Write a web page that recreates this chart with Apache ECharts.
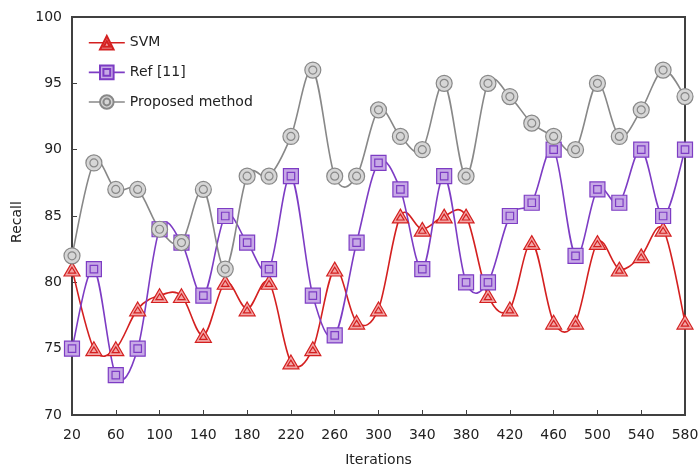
<!DOCTYPE html>
<html>
<head>
<meta charset="utf-8">
<script src="https://cdn.jsdelivr.net/npm/echarts@6/dist/echarts.min.js"></script>
<style>
  html, body { margin: 0; padding: 0; background: #fff; }
  #chart { width: 700px; height: 468px; }
</style>
</head>
<body>
<div id="chart"></div>
<script>
// Iteration counts along the x axis
const iterations = ['20','40','60','80','100','120','140','160','180','200','220','240','260','280','300',
  '320','340','360','380','400','420','440','460','480','500','520','540','560','580'];

// Recall (%) per iteration for each method
const svm = [81, 75, 75, 78, 79, 79, 76, 80, 78, 80, 74, 75, 81, 77, 78,
  85, 84, 85, 85, 79, 78, 83, 77, 77, 83, 81, 82, 84, 77];
const ref11 = [75, 81, 73, 75, 84, 83, 79, 85, 83, 81, 88, 79, 76, 83, 89,
  87, 81, 88, 80, 80, 85, 86, 90, 82, 87, 86, 90, 85, 90];
const proposed = [82, 89, 87, 87, 84, 83, 87, 81, 88, 88, 91, 96, 88, 88, 93,
  91, 90, 95, 88, 95, 94, 92, 91, 90, 95, 91, 93, 96, 94];

const seriesNames = ['SVM', 'Ref [11]', 'Proposed method'];
const lineColors = ['#d42020', '#7d3cc4', '#888888'];
const fillColors = ['#f2a6a6', '#c7a9e6', '#d6d6d6'];

// Double-outlined marker shapes (outer + inner outline)
const triSymbol = 'path://M0,-10 L11,9 L-11,9 Z M0,-3 L5,5 L-5,5 Z';
const sqSymbol = 'path://M-10,-10 L10,-10 L10,10 L-10,10 Z M-5,-5 L5,-5 L5,5 L-5,5 Z';
const circSymbol = 'path://M0,-10 A10,10 0 1 1 0,10 A10,10 0 1 1 0,-10 Z M0,-5 A5,5 0 1 1 0,5 A5,5 0 1 1 0,-5 Z';

const font = 'DejaVu Sans, Verdana, sans-serif';

// Smooth curve through the points (cardinal spline, one Bezier piece per interval)
function curveSeries(values, color) {
  const n = values.length;
  return {
    type: 'custom',
    coordinateSystem: 'cartesian2d',
    data: values.map((v, i) => [i, v]),
    encode: { x: 0, y: 1 },
    z: 1,
    silent: true,
    renderItem: function (params, api) {
      const i = params.dataIndex;
      if (i >= n - 1) return null;
      const pt = k => {
        const c = Math.max(0, Math.min(n - 1, k));
        return api.coord([c, values[c]]);
      };
      const p0 = pt(i - 1), p1 = pt(i), p2 = pt(i + 1), p3 = pt(i + 2);
      const t = 1 / 6;
      return {
        type: 'bezierCurve',
        shape: {
          x1: p1[0], y1: p1[1],
          cpx1: p1[0] + (p2[0] - p0[0]) * t, cpy1: p1[1] + (p2[1] - p0[1]) * t,
          cpx2: p2[0] - (p3[0] - p1[0]) * t, cpy2: p2[1] - (p3[1] - p1[1]) * t,
          x2: p2[0], y2: p2[1]
        },
        style: { fill: null, stroke: color, lineWidth: 1.6 }
      };
    }
  };
}

// Markers at each data point; the connecting curve is drawn by curveSeries
function markerSeries(name, values, color, fill, symbol, size) {
  return {
    name: name,
    type: 'line',
    data: values,
    symbol: symbol,
    symbolSize: size,
    symbolKeepAspect: true,
    showAllSymbol: true,
    z: 3,
    lineStyle: { opacity: 0 },
    itemStyle: { color: fill, borderColor: color, borderWidth: 1.2 },
    emphasis: { disabled: true }
  };
}

const chart = echarts.init(document.getElementById('chart'), null, { renderer: 'canvas' });
chart.setOption({
  animation: false,
  backgroundColor: '#ffffff',
  grid: {
    left: 72, right: 15, top: 17, bottom: 53,
    outerBoundsMode: 'none',
    containLabel: false,
    show: true, borderColor: '#404040', borderWidth: 2, backgroundColor: 'transparent'
  },
  legend: {
    data: seriesNames.map((name, i) => ({
      name: name,
      lineStyle: { opacity: 1, color: lineColors[i], width: 1.6 }
    })),
    orient: 'vertical',
    left: 83, top: 30,
    itemWidth: 36, itemHeight: 17,
    itemGap: 14,
    textStyle: { fontFamily: font, fontSize: 14, color: '#222' }
  },
  xAxis: {
    type: 'category',
    data: iterations,
    boundaryGap: false,
    name: 'Iterations',
    nameLocation: 'middle',
    nameGap: 38,
    nameTextStyle: { fontFamily: font, fontSize: 14, color: '#222' },
    axisLine: { lineStyle: { color: '#404040', width: 2 } },
    axisTick: { inside: true, length: 5, interval: 1, lineStyle: { color: '#404040' } },
    axisLabel: { interval: 1, margin: 13, fontFamily: font, fontSize: 14, color: '#222' },
    splitLine: { show: false }
  },
  yAxis: {
    type: 'value',
    min: 70, max: 100, interval: 5,
    name: 'Recall',
    nameLocation: 'middle',
    nameGap: 47,
    nameTextStyle: { fontFamily: font, fontSize: 14, color: '#222', padding: [0, 12, 0, 0] },
    axisLine: { show: true, lineStyle: { color: '#404040', width: 2 } },
    axisTick: { show: true, inside: true, length: 5, lineStyle: { color: '#404040' } },
    axisLabel: { margin: 10, fontFamily: font, fontSize: 14, color: '#222' },
    splitLine: { show: false }
  },
  series: [
    curveSeries(svm, lineColors[0]),
    curveSeries(ref11, lineColors[1]),
    curveSeries(proposed, lineColors[2]),
    markerSeries(seriesNames[0], svm, lineColors[0], fillColors[0], triSymbol, 16),
    markerSeries(seriesNames[1], ref11, lineColors[1], fillColors[1], sqSymbol, 15),
    markerSeries(seriesNames[2], proposed, lineColors[2], fillColors[2], circSymbol, 16)
  ]
});
</script>
</body>
</html>
